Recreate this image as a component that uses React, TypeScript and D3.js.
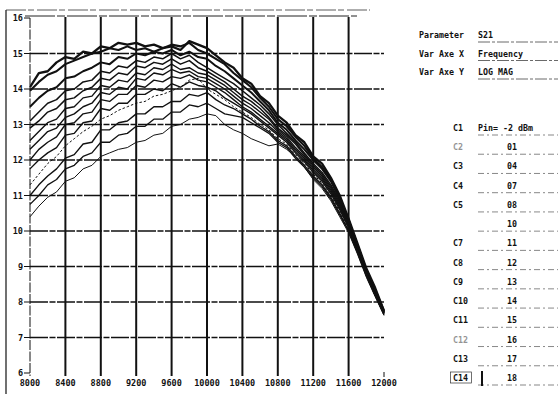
import * as d3 from 'd3';

// ── data (LOG MAG vs frequency, 100 MHz steps) ─────────────────────────────
const FREQ = [
  8000, 8100, 8200, 8300, 8400, 8500, 8600, 8700, 8800, 8900,
  9000, 9100, 9200, 9300, 9400, 9500, 9600, 9700, 9800, 9900,
  10000, 10100, 10200, 10300, 10400, 10500, 10600, 10700, 10800, 10900,
  11000, 11100, 11200, 11300, 11400, 11500, 11600, 11700, 11800, 11900, 12000,
];

const S18 = [14.05, 14.45, 14.5, 14.75, 14.9, 14.85, 15.05, 15.0, 15.2, 15.15, 15.3, 15.25, 15.3, 15.2, 15.25, 15.15, 15.2, 15.1, 15.35, 15.25, 15.15, 14.95, 14.75, 14.6, 14.3, 14.15, 13.8, 13.6, 13.25, 13.05, 12.7, 12.5, 12.1, 11.9, 11.5, 11.0, 10.35, 9.65, 8.95, 8.4, 7.75];
const S17 = [13.95, 14.2, 14.4, 14.5, 14.7, 14.8, 14.9, 15.0, 15.05, 15.15, 15.1, 15.2, 15.1, 15.15, 15.05, 15.15, 15.25, 15.2, 15.3, 15.1, 15.0, 14.85, 14.7, 14.45, 14.25, 14.05, 13.75, 13.5, 13.15, 12.95, 12.65, 12.4, 12.05, 11.8, 11.45, 10.95, 10.3, 9.6, 8.9, 8.35, 7.75];
const S16 = [13.5, 13.75, 13.95, 14.05, 14.3, 14.35, 14.5, 14.6, 14.75, 14.7, 14.9, 14.85, 15.0, 14.95, 15.05, 15.0, 15.1, 14.95, 15.05, 14.9, 14.85, 14.65, 14.5, 14.3, 14.1, 13.9, 13.65, 13.4, 13.05, 12.85, 12.55, 12.3, 12.0, 11.75, 11.4, 10.9, 10.3, 9.6, 8.9, 8.3, 7.72];
const S15 = [13.1, 13.35, 13.6, 13.7, 13.95, 14.0, 14.2, 14.25, 14.5, 14.45, 14.65, 14.6, 14.8, 14.75, 14.9, 14.85, 15.0, 14.85, 14.95, 14.75, 14.6, 14.45, 14.3, 14.15, 13.95, 13.75, 13.55, 13.3, 13.0, 12.75, 12.5, 12.2, 11.9, 11.65, 11.3, 10.85, 10.25, 9.55, 8.85, 8.3, 7.72];
const S14 = [12.9, 13.1, 13.35, 13.45, 13.7, 13.75, 13.95, 14.05, 14.3, 14.25, 14.45, 14.4, 14.65, 14.6, 14.75, 14.7, 14.85, 14.7, 14.8, 14.6, 14.5, 14.35, 14.2, 14.0, 13.8, 13.65, 13.45, 13.2, 12.9, 12.7, 12.45, 12.15, 11.85, 11.6, 11.25, 10.8, 10.2, 9.5, 8.85, 8.25, 7.7];
const S13 = [12.55, 12.8, 13.05, 13.15, 13.45, 13.5, 13.75, 13.8, 14.1, 14.05, 14.25, 14.2, 14.45, 14.4, 14.6, 14.55, 14.7, 14.55, 14.6, 14.45, 14.4, 14.25, 14.1, 13.9, 13.7, 13.55, 13.35, 13.15, 12.85, 12.65, 12.35, 12.1, 11.8, 11.55, 11.2, 10.75, 10.2, 9.5, 8.8, 8.25, 7.7];
const S12 = [12.3, 12.55, 12.8, 12.9, 13.2, 13.3, 13.5, 13.6, 13.9, 13.85, 14.05, 14.0, 14.3, 14.25, 14.45, 14.4, 14.55, 14.45, 14.5, 14.35, 14.3, 14.15, 14.0, 13.8, 13.6, 13.45, 13.25, 13.05, 12.8, 12.6, 12.3, 12.05, 11.75, 11.5, 11.15, 10.7, 10.15, 9.45, 8.8, 8.2, 7.7];
const S11 = [12.0, 12.3, 12.5, 12.65, 13.0, 13.05, 13.3, 13.35, 13.7, 13.65, 13.85, 13.85, 14.1, 14.05, 14.25, 14.2, 14.35, 14.3, 14.4, 14.25, 14.2, 14.05, 13.9, 13.7, 13.5, 13.35, 13.15, 12.95, 12.75, 12.55, 12.25, 12.0, 11.7, 11.45, 11.1, 10.65, 10.1, 9.45, 8.8, 8.2, 7.68];
const S10 = [11.75, 12.0, 12.2, 12.35, 12.7, 12.75, 13.05, 13.1, 13.45, 13.4, 13.6, 13.6, 13.85, 13.85, 14.0, 13.95, 14.15, 14.05, 14.2, 14.1, 14.05, 13.95, 13.75, 13.6, 13.45, 13.3, 13.1, 12.9, 12.7, 12.5, 12.2, 11.95, 11.65, 11.4, 11.05, 10.6, 10.1, 9.45, 8.8, 8.2, 7.68];
const S08 = [11.3, 11.6, 11.9, 12.1, 12.4, 12.6, 12.8, 12.95, 13.15, 13.25, 13.4, 13.5, 13.6, 13.65, 13.8, 13.85, 13.95, 14.05, 14.25, 14.3, 14.0, 13.85, 13.7, 13.5, 13.35, 13.2, 13.0, 12.85, 12.6, 12.45, 12.15, 11.9, 11.6, 11.35, 11.0, 10.55, 10.05, 9.45, 8.75, 8.2, 7.66];
const S07 = [11.0, 11.3, 11.55, 11.75, 12.05, 12.15, 12.45, 12.5, 12.85, 12.85, 13.05, 13.1, 13.3, 13.3, 13.5, 13.5, 13.65, 13.65, 13.85, 13.8, 13.9, 13.7, 13.55, 13.45, 13.3, 13.15, 12.95, 12.8, 12.55, 12.4, 12.1, 11.85, 11.55, 11.3, 10.95, 10.5, 10.0, 9.4, 8.75, 8.2, 7.65];
const S04 = [10.75, 11.0, 11.3, 11.45, 11.75, 11.85, 12.1, 12.2, 12.5, 12.5, 12.7, 12.75, 12.95, 12.95, 13.15, 13.15, 13.35, 13.35, 13.55, 13.5, 13.6, 13.45, 13.3, 13.25, 13.2, 13.05, 12.9, 12.75, 12.5, 12.35, 12.05, 11.8, 11.5, 11.25, 10.9, 10.45, 10.0, 9.4, 8.75, 8.2, 7.65];
const S01 = [10.4, 10.7, 10.95, 11.1, 11.4, 11.5, 11.75, 11.85, 12.1, 12.2, 12.3, 12.35, 12.5, 12.55, 12.7, 12.75, 12.95, 13.0, 13.15, 13.2, 13.3, 13.25, 13.0, 12.85, 12.75, 12.6, 12.5, 12.4, 12.45, 12.3, 12.1, 11.8, 11.45, 11.2, 10.85, 10.4, 9.95, 9.35, 8.7, 8.15, 7.62];

const CURVES = [
  { vals: S18, w: 2.3 }, { vals: S17, w: 2.1 }, { vals: S16, w: 2.0 },
  { vals: S15, w: 1.5 }, { vals: S14, w: 1.5 }, { vals: S13, w: 1.4 },
  { vals: S12, w: 1.4 }, { vals: S11, w: 1.4 }, { vals: S10, w: 1.4 },
  { vals: S08, w: 1.0, dash: '2.5 2' }, { vals: S07, w: 1.4 },
  { vals: S04, w: 1.3 }, { vals: S01, w: 1.0 },
];

const X_TICKS = [8000, 8400, 8800, 9200, 9600, 10000, 10400, 10800, 11200, 11600, 12000];
const Y_TICKS = [6, 7, 8, 9, 10, 11, 12, 13, 14, 15, 16];

const INFO_LABELS = ['Parameter', 'Var Axe X', 'Var Axe Y'];
const INFO_VALUES = ['S21', 'Frequency', 'LOG MAG'];

const CH_LABELS = ['C1', 'C2', 'C3', 'C4', 'C5', '', 'C7', 'C8', 'C9', 'C10', 'C11', 'C12', 'C13', 'C14'];
const CH_VALUES = ['Pin= -2 dBm', '01', '04', '07', '08', '10', '11', '12', '13', '14', '15', '16', '17', '18'];

const W = 559, H = 394;
const FONT = '"DejaVu Sans Mono", monospace';

export default function App() {
  const x = d3.scaleLinear().domain([8000, 12000]).range([30, 384]);
  const y = d3.scaleLinear().domain([6, 16]).range([373, 18]);

  const line = d3.line<number>()
    .x((_, i) => x(FREQ[i]))
    .y(d => y(d))
    .curve(d3.curveLinear);

  const infoY = d3.scalePoint<string>().domain(INFO_LABELS).range([35, 72]);
  const rowY = d3.scaleLinear().domain([0, CH_VALUES.length - 1]).range([128, 378]);

  return (
    <svg width={W} height={H} style={{ position: 'absolute', left: 0, top: 0, background: '#fff' }}>
      <rect width={W} height={H} fill="#fff" />

      {/* outer frame (scan) */}
      <line x1={6} x2={6} y1={10} y2={H} stroke="#111" strokeWidth={1.2} />
      <line x1={6} x2={370} y1={10} y2={10} stroke="#333" strokeWidth={0.8} strokeDasharray="20 2 6 3" />
      <line x1={25} x2={357} y1={16} y2={16} stroke="#222" strokeWidth={1} strokeDasharray="30 2 8 2" />

      {/* horizontal grid */}
      {Y_TICKS.filter(v => v > 6 && v < 16).map(v => (
        <line key={`h${v}`} x1={30} x2={384} y1={y(v)} y2={y(v)}
          stroke="#111" strokeWidth={1.3} strokeDasharray="18 1.5 6 1.5" />
      ))}

      {/* vertical grid */}
      {X_TICKS.slice(1, -1).map(f => (
        <line key={`v${f}`} x1={x(f)} x2={x(f)} y1={17} y2={376} stroke="#111" strokeWidth={2} />
      ))}
      <line x1={x(8000)} x2={x(8000)} y1={18} y2={376} stroke="#111" strokeWidth={1} strokeDasharray="10 1.5" />
      <line x1={x(12000)} x2={x(12000)} y1={372} y2={377} stroke="#111" strokeWidth={1} />

      {/* y tick labels */}
      {Y_TICKS.map(v => (
        <g key={`yt${v}`}>
          <line x1={24} x2={30} y1={y(v)} y2={y(v)} stroke="#111" strokeWidth={1} />
          <text x={23} y={y(v) + 3} textAnchor="end" fontFamily={FONT} fontWeight="bold"
            fontSize={8.5} fill="#111">{v}</text>
        </g>
      ))}

      {/* x tick labels */}
      {X_TICKS.map(f => (
        <text key={`xt${f}`} x={x(f)} y={386} textAnchor="middle" fontFamily={FONT}
          fontWeight="bold" fontSize={8.5} fill="#111">{f}</text>
      ))}

      {/* curves */}
      {CURVES.map((c, i) => (
        <path key={`c${i}`} d={line(c.vals) ?? ''} fill="none" stroke="#111"
          strokeWidth={c.w} strokeDasharray={c.dash} strokeLinejoin="round" />
      ))}

      {/* info panel */}
      {INFO_LABELS.map((lab, i) => (
        <g key={`info${i}`}>
          <text x={419} y={infoY(lab)! + 3} fontFamily={FONT} fontWeight="bold" fontSize={8.3} fill="#111">{lab}</text>
          <text x={478} y={infoY(lab)! + 3} fontFamily={FONT} fontWeight="bold" fontSize={8.3} fill="#111">{INFO_VALUES[i]}</text>
          <line x1={478} x2={558} y1={infoY(lab)! + 7} y2={infoY(lab)! + 7}
            stroke="#444" strokeWidth={0.8} strokeDasharray="12 2 3 2" />
        </g>
      ))}

      {/* channel list */}
      {CH_VALUES.map((val, i) => (
        <g key={`ch${i}`}>
          <text x={453} y={rowY(i) + 3} fontFamily={FONT} fontWeight="bold" fontSize={8.3} fill="#111"
            opacity={i === 1 || i === 11 ? 0.45 : 1}>{CH_LABELS[i]}</text>
          <text x={i === 0 ? 478 : 512} y={rowY(i) + 3} textAnchor={i === 0 ? 'start' : 'middle'}
            fontFamily={FONT} fontWeight="bold" fontSize={8.3} fill="#111">{val}</text>
          <line x1={478} x2={558} y1={rowY(i) + 7} y2={rowY(i) + 7}
            stroke="#555" strokeWidth={0.7} strokeDasharray="6 3 2 3" />
        </g>
      ))}
      {/* marker box on C14 and cursor bar */}
      <rect x={450.5} y={rowY(13) - 6} width={21} height={11} fill="none" stroke="#333" strokeWidth={0.7} />
      <line x1={482} x2={482} y1={rowY(13) - 7} y2={rowY(13) + 8} stroke="#111" strokeWidth={2} />
    </svg>
  );
}
